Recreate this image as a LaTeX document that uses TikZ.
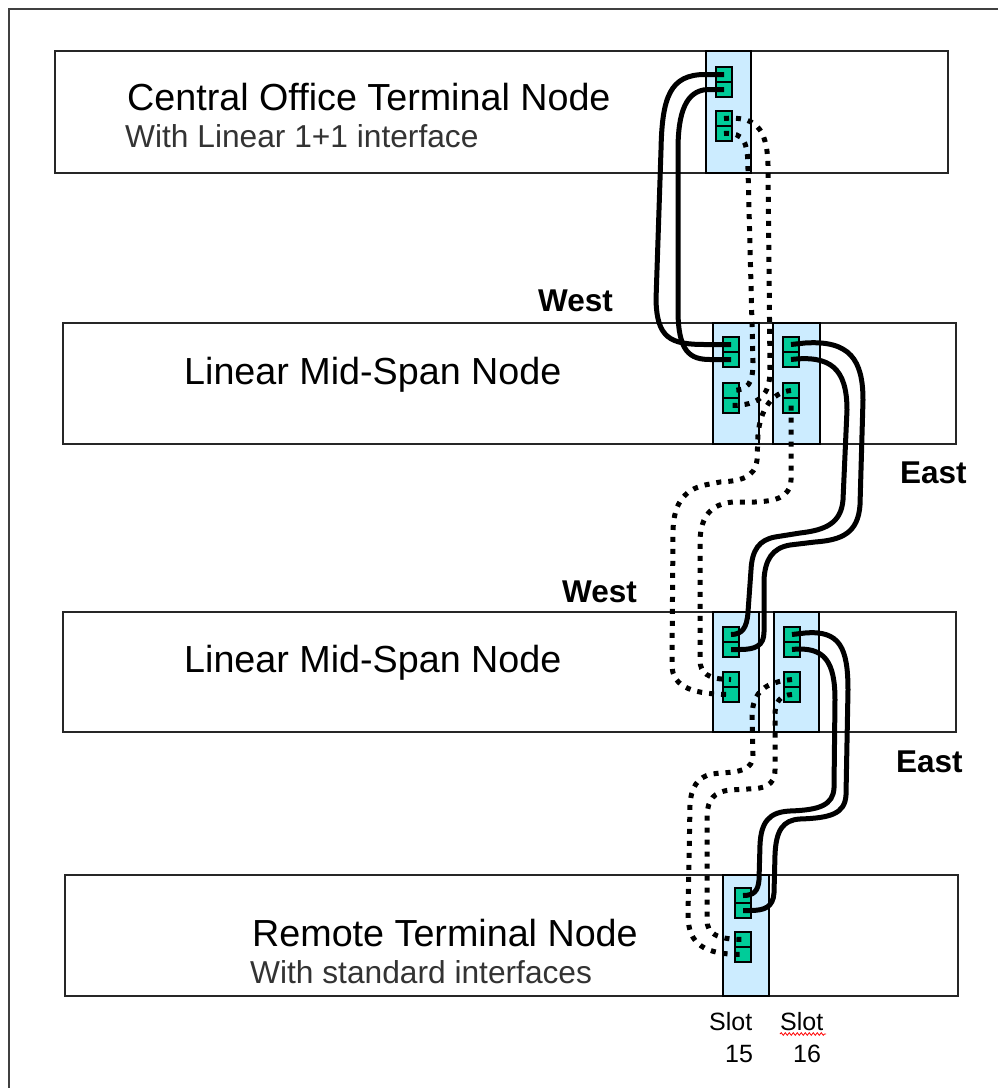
\documentclass[tikz,border=0pt]{standalone}
\usepackage{fontspec}
\setmainfont{Liberation Sans}
\usetikzlibrary{decorations.pathmorphing}
\definecolor{slotblue}{HTML}{CCECFF}
\definecolor{portgreen}{HTML}{00CC99}
\begin{document}
\begin{tikzpicture}[x=1pt,y=-1pt,
  frame/.style={draw=black!75, line width=2pt},
  nodebox/.style={draw=black!85, line width=1.8pt, fill=white, anchor=north west, inner sep=0pt, outer sep=0pt},
  slotbox/.style={draw=black, line width=1.4pt, fill=slotblue, anchor=north west, inner sep=0pt, outer sep=0pt},
  port/.style={draw=black, line width=1.3pt, fill=portgreen, minimum width=16pt, minimum height=15pt, inner sep=0pt, outer sep=0pt, anchor=north west},
  cable/.style={line width=5pt, draw=black},
  dotcable/.style={line width=5pt, draw=black, dash pattern=on 5pt off 7pt},
  title/.style={font=\fontsize{37.7}{44}\selectfont, anchor=base west, inner sep=0pt},
  subtitle/.style={font=\fontsize{31.7}{37}\selectfont, anchor=base west, inner sep=0pt, text=black!80},
  dirlabel/.style={font=\bfseries\fontsize{31.5}{38}\selectfont, anchor=base west, inner sep=0pt},
  slotlabel/.style={font=\fontsize{25}{30}\selectfont, anchor=base west, inner sep=0pt}
]
\useasboundingbox (0,0) rectangle (998,1088);
\fill[white] (0,0) rectangle (998,1088);
\draw[frame] (9,1100) -- (9,9) -- (1010,9);

% node boxes
\node[nodebox, minimum width=893pt, minimum height=122pt] (co) at (55,51) {};
\node[nodebox, minimum width=893pt, minimum height=121pt] (m1) at (63,323) {};
\node[nodebox, minimum width=893pt, minimum height=120pt] (m2) at (63,612) {};
\node[nodebox, minimum width=893pt, minimum height=121pt] (rt) at (65,875) {};

% slots
\node[slotbox, minimum width=45pt, minimum height=122pt] (s0) at (706,51) {};
\node[slotbox, minimum width=46pt, minimum height=121pt] (s1L) at (713,323) {};
\node[slotbox, minimum width=47pt, minimum height=121pt] (s1R) at (773,323) {};
\node[slotbox, minimum width=46pt, minimum height=120pt] (s2L) at (713,612) {};
\node[slotbox, minimum width=45pt, minimum height=120pt] (s2R) at (774,612) {};
\node[slotbox, minimum width=46pt, minimum height=121pt] (s3) at (723,875) {};
\draw[line width=2.5pt] (s3.south west) -- (s3.south east);

% ports
\node[port] (p0a) at (716,67) {};
\node[port] (p0b) at (716,82) {};
\node[port] (p0c) at (716,111) {};
\node[port] (p0d) at (716,126) {};
\node[port] (p1La) at (723,337) {};
\node[port] (p1Lb) at (723,352) {};
\node[port] (p1Lc) at (723,383) {};
\node[port] (p1Ld) at (723,398) {};
\node[port] (p1Ra) at (783,337) {};
\node[port] (p1Rb) at (783,352) {};
\node[port] (p1Rc) at (783,383) {};
\node[port] (p1Rd) at (783,398) {};
\node[port] (p2La) at (723,627) {};
\node[port] (p2Lb) at (723,642) {};
\node[port] (p2Lc) at (723,672) {};
\node[port] (p2Ld) at (723,687) {};
\node[port] (p2Ra) at (784,627) {};
\node[port] (p2Rb) at (784,642) {};
\node[port] (p2Rc) at (784,672) {};
\node[port] (p2Rd) at (784,687) {};
\node[port] (p3a) at (735,888) {};
\node[port] (p3b) at (735,903) {};
\node[port] (p3c) at (735,932) {};
\node[port] (p3d) at (735,947) {};

% solid cables, pair 1 (CO -> Mid 1 west)
\draw[cable] (p0a.center) -- (705,74.5) .. controls (670,74.5) and (662,97) .. (661,150) -- (656,300) .. controls (657,338) and (670,344.5) .. (705,344.5) -- (p1La.center);
\draw[cable] (p0b.center) -- (707,89.5) .. controls (686,91) and (678,112) .. (678,150) -- (678,310) .. controls (678,352) and (690,359.5) .. (710,359.5) -- (p1Lb.center);

% solid cables, pair 2 (Mid 1 east -> Mid 2 west)
\draw[cable] (p1Ra.center) -- (805,343) .. controls (850,340) and (863,360) .. (863,400) -- (860,505) .. controls (858,533) and (842,540) .. (815,542) -- (790,545) .. controls (772,548) and (765,560) .. (764,580) -- (764,632) .. controls (764,646) and (755,649.5) .. (740,649.5) -- (p2Lb.center);
\draw[cable] (p1Rb.center) .. controls (830,355) and (847,368) .. (847,410) -- (843,500) .. controls (841,523) and (826,530) .. (800,533) -- (775,537) .. controls (759,540) and (752,550) .. (751,570) -- (748,612) .. controls (747,628) and (742,634.5) .. (p2La.center);

% solid cables, pair 3 (Mid 2 east -> Remote)
\draw[cable] (p2Ra.center) -- (805,633) .. controls (840,630) and (848,648) .. (848,690) -- (846,795) .. controls (845,814) and (830,818) .. (800,819) .. controls (783,820) and (776,830) .. (775,855) -- (774,893) .. controls (773,907) and (765,910.5) .. (750,910.5) -- (p3b.center);
\draw[cable] (p2Rb.center) .. controls (825,646) and (835,662) .. (835,700) -- (834,788) .. controls (833,805) and (820,810) .. (790,811) .. controls (769,812) and (761,822) .. (760,845) -- (759,880) .. controls (758,891) and (754,895.5) .. (p3a.center);

% dotted cables, pair A
\draw[dotcable] (p0c.center) .. controls (755,116) and (767,127) .. (768,165) -- (770,370) .. controls (770,395) and (760,405.5) .. (p1Ld.center);
\draw[dotcable] (p0d.center) .. controls (744,132) and (748,142) .. (748,170) -- (753,362) .. controls (753,384) and (748,390.5) .. (p1Lc.center);

% dotted cables, pair B
\draw[dotcable] (p1Rc.center) .. controls (772,392) and (760,410) .. (758,435) -- (757,460) .. controls (755,478) and (740,481) .. (720,482) -- (710,484) .. controls (685,488) and (674,502) .. (673,530) -- (672,665) .. controls (672,688) and (695,694.5) .. (p2Ld.center);
\draw[dotcable] (p1Rd.center) -- (791,480) .. controls (790,498) and (775,501) .. (755,502) -- (733,502) .. controls (711,504) and (701,516) .. (700,540) -- (700,660) .. controls (700,673) and (708,679.5) .. (p2Lc.center);

% dotted cables, pair C
\draw[dotcable] (p2Rc.center) .. controls (765,682) and (753,692) .. (752,715) -- (753,755) .. controls (753,770) and (740,772) .. (720,773) -- (712,774) .. controls (697,777) and (691,788) .. (690,805) -- (688,915) .. controls (688,945) and (705,954.5) .. (p3d.center);
\draw[dotcable] (p2Rd.center) .. controls (780,695) and (775,702) .. (775,715) -- (775,770) .. controls (775,785) and (765,789) .. (747,789) -- (730,790) .. controls (713,792) and (708,800) .. (707,815) -- (707,920) .. controls (707,933) and (716,939.5) .. (p3c.center);

% texts
\node[title] (cot) at (127,110) {Central Office Terminal Node};
\node[subtitle] (cos) at (125,147) {With Linear 1+1 interface};
\node[title] (m1t) at (184,384) {Linear Mid-Span Node};
\node[title] (m2t) at (184,672) {Linear Mid-Span Node};
\node[title] (rtt) at (252,946) {Remote Terminal Node};
\node[subtitle] (rts) at (250,983) {With standard interfaces};
\node[dirlabel] (w1) at (538,311) {West};
\node[dirlabel] (w2) at (562,602) {West};
\node[dirlabel] (e1) at (900,483) {East};
\node[dirlabel] (e2) at (896,772) {East};
\node[slotlabel] (sl15) at (709,1030) {Slot};
\node[slotlabel] (n15) at (725,1062) {15};
\node[slotlabel] (sl16) at (780,1030) {Slot};
\node[slotlabel] (n16) at (793,1062) {16};
\draw[red, line width=0.8pt, decorate, decoration={snake, amplitude=1.3pt, segment length=4pt}] (sl16.base west) ++(0,4) -- ++(46,0);
\end{tikzpicture}
\end{document}
